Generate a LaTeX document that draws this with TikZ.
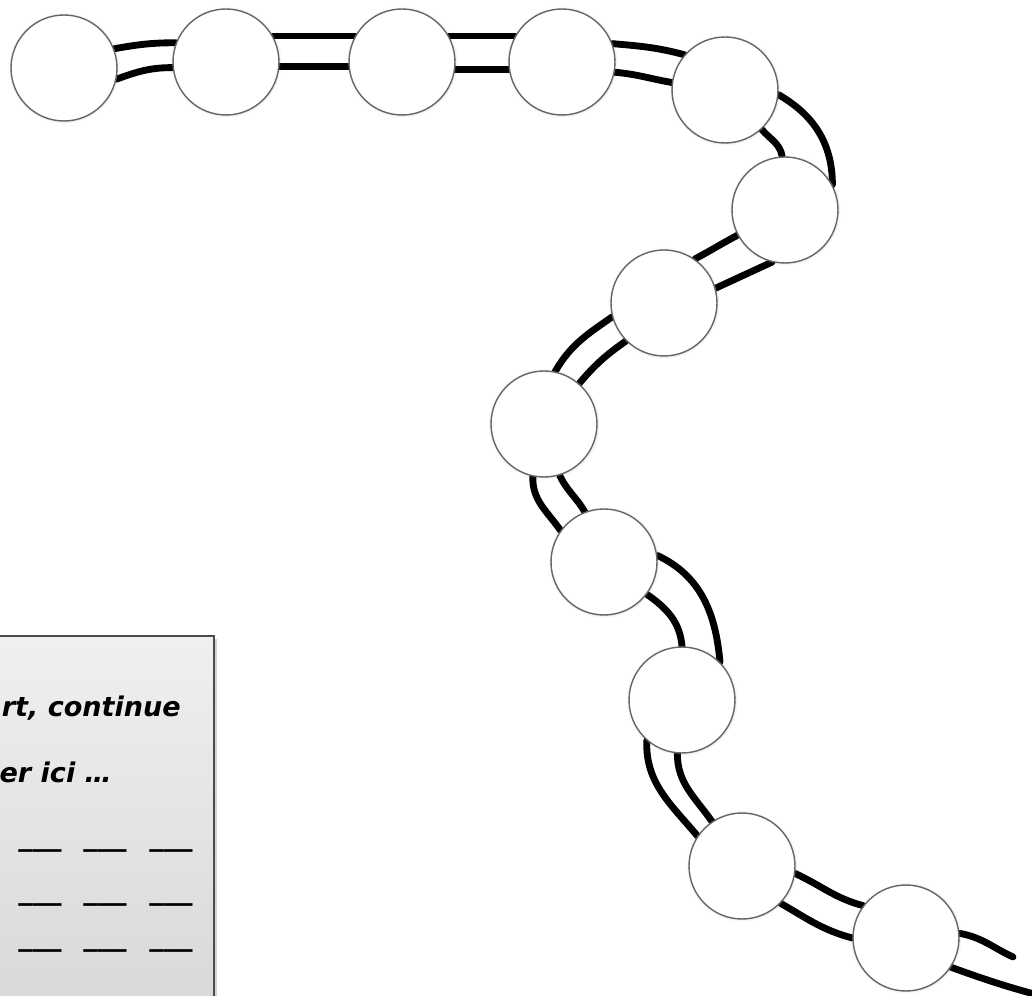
\documentclass[tikz,border=0pt]{standalone}
\usepackage{fontspec}
\setmainfont{DejaVu Sans}
\usepackage{tikz}
\usetikzlibrary{shapes,backgrounds,positioning,shadows}

\begin{document}
\begin{tikzpicture}[x=0.02cm,y=0.02cm,
    pearl/.style={circle,draw=black!60,line width=0.8pt,fill=white,minimum size=2.12cm,inner sep=0pt,
      circular drop shadow={shadow xshift=0pt,shadow yshift=0pt,shadow scale=1.05,opacity=0.4}},
    rail/.style={line width=3.9pt,line cap=round},
    panel/.style={rectangle,draw=black!70,line width=0.7pt,top color=gray!12,bottom color=gray!32,
      minimum width=4.68cm,minimum height=8cm,
      drop shadow={shadow xshift=1.5pt,shadow yshift=-1.5pt,opacity=0.35}},
    note/.style={font=\fontsize{15.4}{19}\selectfont\bfseries\itshape},
    blank/.style={font=\fontsize{16.5}{20}\selectfont\bfseries,inner sep=0pt,anchor=base}]

   \useasboundingbox (0,0) rectangle (1032,-996);
   \clip (0,0) rectangle (1032,-996);

   % the panel
   \node[panel] (panel) at (97,-836) {};
   \node[note,anchor=base east] (line_1) at (187,-717) {rt, continue};
   \node[note,anchor=base east] (line_2) at (118,-783) {er ici …};
   \foreach \r/\y in {1/846,2/900,3/946}
     \foreach \k/\x in {1/40,2/105,3/171}
       \node[blank] (blank_\r\k) at (\x,-\y) {\_\_\_};

   % the pearls
   \node[pearl] (c_1)  at (64,-68)   {};
   \node[pearl] (c_2)  at (226,-62)  {};
   \node[pearl] (c_3)  at (402,-62)  {};
   \node[pearl] (c_4)  at (562,-62)  {};
   \node[pearl] (c_5)  at (725,-90)  {};
   \node[pearl] (c_6)  at (785,-210) {};
   \node[pearl] (c_7)  at (664,-303) {};
   \node[pearl] (c_8)  at (544,-424) {};
   \node[pearl] (c_9)  at (604,-562) {};
   \node[pearl] (c_10) at (682,-700) {};
   \node[pearl] (c_11) at (742,-866) {};
   \node[pearl] (c_12) at (906,-938) {};
   \coordinate (end_1) at (1013,-957);
   \coordinate (end_2) at (1045,-997);

   % the rails
   \begin{scope}[on background layer]
    \path[rail]
    (c_1.21)   edge [out=10,in=180]  (c_2.159)
    (c_1.-12)  edge [out=20,in=180]  (c_2.186)
    (c_2.29)   edge [out=0,in=180]   (c_3.151)
    (c_2.-5)   edge [out=0,in=180]   (c_3.185)
    (c_3.29)   edge [out=0,in=180]   (c_4.151)
    (c_3.-8)   edge [out=0,in=180]   (c_4.188)
    (c_4.20)   edge [out=-5,in=165]  (c_5.139)
    (c_4.-11)  edge [out=-5,in=170]  (c_5.172)
    (c_5.-5)   edge [out=-30,in=90]  (c_6.28)
    (c_5.-47)  edge [out=-50,in=100] (c_6.93)
    (c_6.208)  edge [out=208,in=28]  (c_7.55)
    (c_6.256)  edge [out=205,in=25]  (c_7.16)
    (c_7.195)  edge [out=215,in=60]  (c_8.78)
    (c_7.225)  edge [out=215,in=50]  (c_8.49)
    (c_8.258)  edge [out=268,in=125] (c_9.144)
    (c_8.287)  edge [out=295,in=120] (c_9.111)
    (c_9.7)    edge [out=-25,in=95]  (c_10.45)
    (c_9.-37)  edge [out=-35,in=95]  (c_10.90)
    (c_10.229) edge [out=268,in=130] (c_11.146)
    (c_10.265) edge [out=270,in=125] (c_11.124)
    (c_11.-8)  edge [out=-25,in=165] (c_12.143)
    (c_11.-44) edge [out=-30,in=165] (c_12.180)
    (c_12.5)   edge [out=-10,in=155] (end_1)
    (c_12.-33) edge [out=-20,in=165] (end_2);
   \end{scope}
\end{tikzpicture}
\end{document}
